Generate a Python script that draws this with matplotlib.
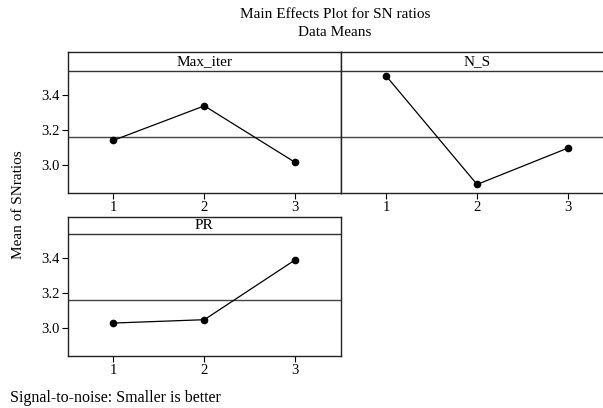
import matplotlib
matplotlib.use("Agg")
import matplotlib.pyplot as plt
import numpy as np

# ---- data ----
levels = [1, 2, 3]
factors = ["Max_iter", "N_S", "PR"]
max_iter_sn = [3.141, 3.337, 3.015]
n_s_sn = [3.507, 2.890, 3.097]
pr_sn = [3.030, 3.049, 3.389]
yticks = [3.0, 3.2, 3.4]

series = [max_iter_sn, n_s_sn, pr_sn]
grand_mean = np.mean(np.concatenate([max_iter_sn, n_s_sn, pr_sn]))

plt.rcParams['font.family'] = ['Liberation Serif', 'DejaVu Serif']
plt.rcParams['font.size'] = 11

W, H = 603, 408
fig = plt.figure(figsize=(W / 100, H / 100), dpi=100)

def px_axes(x0, y_top, x1, y_bot):
    return fig.add_axes([x0 / W, 1 - y_bot / H, (x1 - x0) / W, (y_bot - y_top) / H])

# panel geometry in pixels: (x0, strip_top, x1, data_bottom, strip_bottom)
panels = [
    (68, 52.3, 340.7, 192.7, 70.7),
    (340.7, 52.3, 613.4, 192.7, 70.7),
    (68, 216.7, 340.7, 356.0, 233.7),
]

ymin = 2.843
ystrip = 3.537

for i, (x0, yt, x1, yb, ys) in enumerate(panels):
    ax = px_axes(x0, yt, x1, yb)
    scale = (yb - ys) / (ystrip - ymin)
    ymax = ystrip + (ys - yt) / scale
    ax.set_xlim(0.5, 3.5)
    ax.set_ylim(ymin, ymax)
    ax.axhline(ystrip, color='#333333', lw=1.0)
    ax.axhline(grand_mean, color='#444444', lw=1.0)
    ax.plot(levels, series[i], color='black', lw=0.9, marker='o', ms=4.5,
            markerfacecolor='black', markeredgecolor='black')
    ax.text(0.5, (ystrip + ymax) / 2, factors[i], transform=ax.get_yaxis_transform(),
            ha='center', va='center', fontsize=11)
    ax.set_xticks(levels)
    ax.set_xticklabels([str(l) for l in levels])
    ax.tick_params(direction='out', length=4, width=0.8, pad=2, labelsize=10.5)
    if i == 1:
        ax.set_yticks([])
    else:
        ax.set_yticks(yticks)
        ax.set_yticklabels([f"{t:.1f}" for t in yticks])
    for s in ax.spines.values():
        s.set_linewidth(1.0)
        s.set_color('#222222')

fig.text(335 / W, 1 - 15 / H, "Main Effects Plot for SN ratios", ha='center', va='center', fontsize=11)
fig.text(335 / W, 1 - 33 / H, "Data Means", ha='center', va='center', fontsize=11)
fig.text(19 / W, 1 - 205 / H, "Mean of SNratios", rotation=90, ha='center', va='center', fontsize=11)
fig.text(10 / W, 1 - 398 / H, "Signal-to-noise: Smaller is better", ha='left', va='center', fontsize=11.5)

fig.savefig("out.png", dpi=100)
